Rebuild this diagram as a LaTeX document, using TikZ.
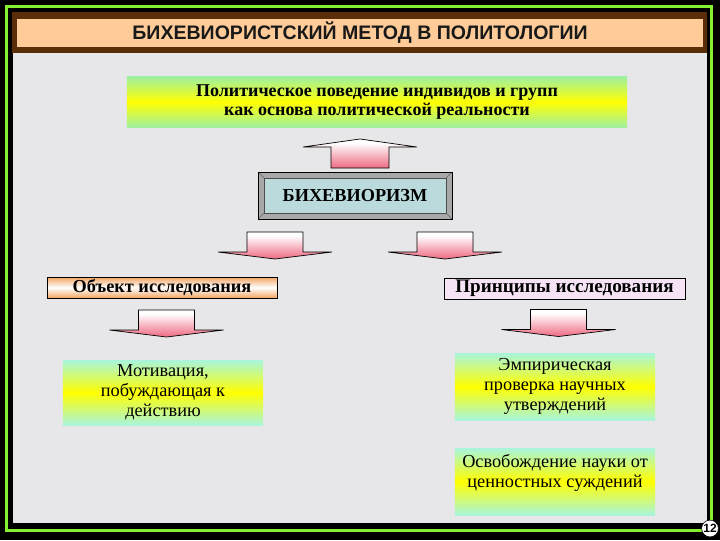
\documentclass[tikz,border=0pt]{standalone}
\usepackage{fontspec}
\setmainfont{Liberation Serif}
\setsansfont{Liberation Sans}
\usetikzlibrary{positioning}

\definecolor{limeframe}{HTML}{84F030}
\definecolor{brownbar}{HTML}{5A2E08}
\definecolor{peach}{HTML}{FFCC99}
\definecolor{marble}{HTML}{E7E7E9}
\definecolor{mint}{HTML}{A8F5DC}
\definecolor{leaf}{HTML}{A0F0A0}
\definecolor{bihfill}{HTML}{BADADC}
\definecolor{bevel}{HTML}{A8A8A8}
\definecolor{objorange}{HTML}{F3A462}
\definecolor{lavender}{HTML}{F6E4F6}
\definecolor{arrred}{HTML}{E02C48}
\definecolor{arrrose}{HTML}{F07A90}
\definecolor{arrpink}{HTML}{F6A8B6}

\pgfdeclareverticalshading{pinkarrow}{100bp}{color(0bp)=(arrred); color(30bp)=(arrrose); color(68bp)=(white); color(86bp)=(white); color(100bp)=(arrpink)}

\tikzset{
  gradbox/.style={minimum width=5cm, minimum height=1.675cm, align=center,
    top color=mint, bottom color=mint, middle color=yellow,
    font=\fontsize{13}{14.2}\selectfont},
  labelbox/.style={draw=black, line width=0.5pt, minimum height=0.525cm,
    inner sep=1pt, font=\bfseries\fontsize{13}{14}\selectfont},
  bevelbox/.style={draw=black, fill=bevel, minimum width=4.85cm, minimum height=1.175cm,
    font=\bfseries\fontsize{13}{15}\selectfont,
    path picture={
      \draw[black!70, fill=bihfill] ([shift={(6,6)}]path picture bounding box.north west)
        rectangle ([shift={(-6,-6)}]path picture bounding box.south east);
      \draw[black!60] (path picture bounding box.north west) -- ++(6,6)
        (path picture bounding box.north east) -- ++(-6,6)
        (path picture bounding box.south west) -- ++(6,-6)
        (path picture bounding box.south east) -- ++(-6,-6);
    }},
  arrowpiece/.style={draw=black, line width=0.5pt, shade, shading=pinkarrow},
  downarr/.pic={\draw[arrowpiece] (-28,0) -- (28,0) -- (28,20) -- (57,20) -- (0,27)
    -- (-57,20) -- (-28,20) -- cycle;},
  uparr/.pic={\draw[arrowpiece] (-29,0) -- (29,0) -- (29,-21) -- (57,-21) -- (0,-29)
    -- (-57,-21) -- (-29,-21) -- cycle;},
}

\begin{document}
\begin{tikzpicture}[x=0.025cm, y=-0.025cm, node distance=2.375cm, on grid]

% frame and background
\fill[black] (0,0) rectangle (720,540);
\draw[limeframe, line width=2.5pt] (6.5,6.5) rectangle (711.5,530.5);
\fill[marble] (13,53) rectangle (707,523);
\fill[brownbar] (12,12) rectangle (707,53);

\node (bar) [fill=peach, minimum width=17.15cm, minimum height=0.7cm, inner sep=0pt] at (360,33) {};
\node (title) [font=\sffamily\bfseries\fontsize{13.9}{16}\selectfont, text=black!90] at (bar.center)
  {БИХЕВИОРИСТСКИЙ МЕТОД В ПОЛИТОЛОГИИ};

% boxes
\node (polit) [minimum width=12.5cm, minimum height=1.25cm, align=center,
  top color=leaf, bottom color=leaf, middle color=yellow,
  font=\bfseries\fontsize{12.8}{13.8}\selectfont] at (377,102)
  {Политическое поведение индивидов и групп\\как основа политической реальности};
\node (bih) [bevelbox] at (355,195.5) {БИХЕВИОРИЗМ};

\node (obj) [labelbox, minimum width=5.75cm, top color=objorange, bottom color=objorange,
  middle color=white] at (162,287.5) {Объект исследования};
\node (princ) [labelbox, minimum width=6.025cm, fill=lavender,
  font=\bfseries\fontsize{13.6}{14}\selectfont] at (564.5,288.5) {Принципы исследования};

\node (motiv) [gradbox, minimum height=1.625cm] at (163,392.5)
  {Мотивация,\\побуждающая к\\действию};
\node (emp) [gradbox] at (555,386.5) {Эмпирическая\\проверка научных\\утверждений};
\node (osv) [gradbox, below=of emp] {};
\node (osvtext) [align=center, font=\fontsize{13}{14.2}\selectfont] at ([yshift=6pt]osv.center)
  {Освобождение науки от\\ценностных суждений};

% arrows
\pic at (360,168) {uparr};
\pic at (275,232) {downarr};
\pic at (445,232) {downarr};
\pic at (166.5,310) {downarr};
\pic at (558.5,309.5) {downarr};

\node (page) [circle, fill=white, draw=black, line width=0.4pt, minimum size=0.42cm, inner sep=0pt,
  font=\sffamily\bfseries\fontsize{8.5}{9}\selectfont] at (710,528.5) {12};

\end{tikzpicture}
\end{document}
